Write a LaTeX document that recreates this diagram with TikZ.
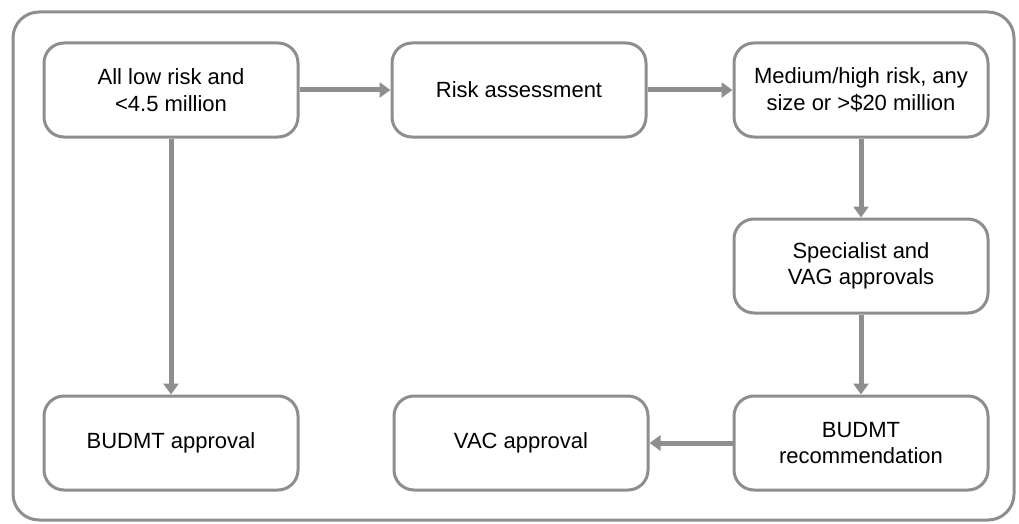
\documentclass[tikz,border=0pt]{standalone}
\usepackage{fontspec}
\setmainfont{Liberation Sans}
\usetikzlibrary{arrows.meta}
\definecolor{lg}{RGB}{142,142,142}
\tikzset{
  box/.style={draw=lg, line width=3pt, rounded corners=20pt, minimum width=254pt, minimum height=94pt, align=center, inner sep=0pt, font=\fontsize{22}{26.5}\selectfont},
  conn/.style={draw=lg, line width=5pt, -{Triangle[width=15pt,length=11pt]}}
}
\begin{document}
\begin{tikzpicture}[x=1pt,y=-1pt]
\useasboundingbox (0,0) rectangle (1019,524);
\draw[lg, line width=3pt, rounded corners=26pt] (13,12) rectangle (1014,520);
\node[box] (A) at (171,90) {All low risk and\\<4.5 million};
\node[box] (B) at (519,90) {Risk assessment};
\node[box] (C) at (861,90) {Medium/high risk, any\\size or >\$20 million};
\node[box] (D) at (861,266) {Specialist and\\VAG approvals};
\node[box] (E) at (861,443) {BUDMT\\recommendation};
\node[box] (F) at (521,443) {VAC approval};
\node[box] (G) at (171,443) {BUDMT approval};
\draw[conn] (A) -- (B);
\draw[conn] (B) -- (C);
\draw[conn] (A) -- (G);
\draw[conn] (C) -- (D);
\draw[conn] (D) -- (E);
\draw[conn] (E) -- (F);
\end{tikzpicture}
\end{document}
